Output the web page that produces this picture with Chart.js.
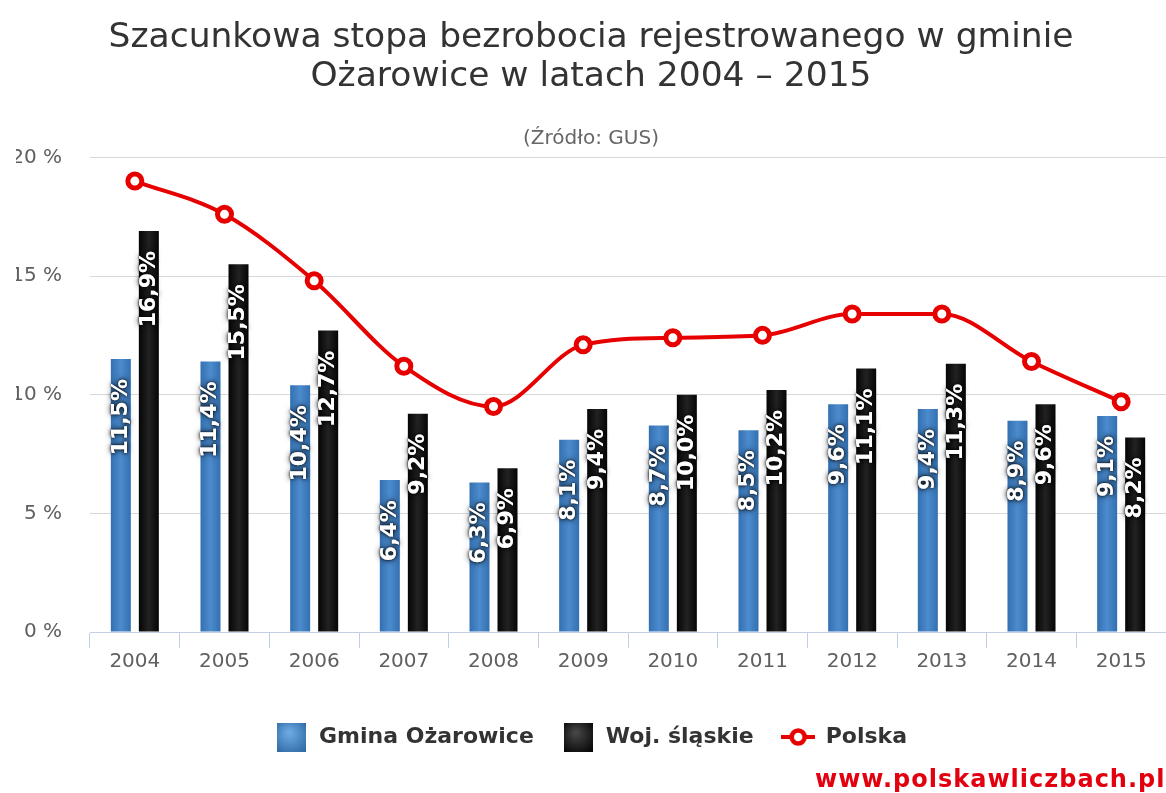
<!DOCTYPE html>
<html>
<head>
<meta charset="utf-8">
<script src="https://cdn.jsdelivr.net/npm/chart.js@4.4.1/dist/chart.umd.min.js"></script>
<style>
  body { margin: 0; background: #fff; overflow: hidden; }
  #wrap { position: relative; width: 1166px; height: 793px; }
  #mark { position: absolute; left: 815px; top: 765px; font: bold 24px "DejaVu Sans"; color: #e3000f; white-space: nowrap; letter-spacing: 1px; }
</style>
</head>
<body>
<div id="wrap">
  <canvas id="chart"></canvas>
  <div id="mark">www.polskawliczbach.pl</div>
</div>
<script>
// data
const years = ["2004", "2005", "2006", "2007", "2008", "2009", "2010", "2011", "2012", "2013", "2014", "2015"];
const gmina = [11.5, 11.4, 10.4, 6.4, 6.3, 8.1, 8.7, 8.5, 9.6, 9.4, 8.9, 9.1];
const slaskie = [16.9, 15.5, 12.7, 9.2, 6.9, 9.4, 10.0, 10.2, 11.1, 11.3, 9.6, 8.2];
const polska = [19.0, 17.6, 14.8, 11.2, 9.5, 12.1, 12.4, 12.5, 13.4, 13.4, 11.4, 9.7];
const yTicks = [0, 5, 10, 15, 20];

const catPct = 0.625;
const barPct = 0.714;

Chart.defaults.font.family = '"DejaVu Sans"';

// horizontal gradient across one bar
function barFill(ctx, light, dark, side) {
    const chart = ctx.chart;
    const xs = chart.scales.x;
    if (ctx.type !== 'data' || !xs) return dark;
    const slot = xs.width / years.length * catPct / 2;
    const cx = xs.getPixelForValue(ctx.dataIndex) + side * slot / 2;
    const w = slot * barPct;
    const g = chart.ctx.createLinearGradient(cx - w / 2, 0, cx + w / 2, 0);
    g.addColorStop(0, dark);
    g.addColorStop(0.5, light);
    g.addColorStop(1, dark);
    return g;
}

function boxIcon(light, dark) {
    const c = document.createElement('canvas');
    c.width = 29; c.height = 29;
    const x = c.getContext('2d');
    const g = x.createRadialGradient(12, 10, 2, 14, 14, 22);
    g.addColorStop(0, light);
    g.addColorStop(1, dark);
    x.fillStyle = g;
    x.fillRect(0, 0, 29, 29);
    return c;
}

function lineIcon() {
    const c = document.createElement('canvas');
    c.width = 34; c.height = 22;
    const x = c.getContext('2d');
    x.strokeStyle = '#e60000';
    x.lineWidth = 4;
    x.beginPath(); x.moveTo(0, 11); x.lineTo(34, 11); x.stroke();
    x.beginPath(); x.arc(17, 11, 6.5, 0, Math.PI * 2);
    x.fillStyle = '#fff'; x.fill();
    x.lineWidth = 4.5; x.stroke();
    return c;
}

const icons = [boxIcon('#6aa7e0', '#2a64a0'), boxIcon('#444', '#000'), lineIcon()];

// white rotated value labels inside the bars
const barLabels = {
    id: 'barLabels',
    afterDatasetDraw(chart, args) {
        const meta = args.meta;
        if (meta.type !== 'bar') return;
        const values = chart.data.datasets[args.index].data;
        const ctx = chart.ctx;
        ctx.save();
        ctx.font = 'bold 22px "DejaVu Sans"';
        ctx.textAlign = 'right';
        ctx.textBaseline = 'middle';
        ctx.fillStyle = '#fff';
        meta.data.forEach((bar, i) => {
            const text = values[i].toFixed(1).replace('.', ',') + '%';
            ctx.save();
            ctx.translate(bar.x, bar.y + 20);
            ctx.rotate(-Math.PI / 2);
            ctx.shadowColor = 'rgba(0,0,0,0.9)';
            ctx.shadowBlur = 6;
            ctx.fillText(text, 0, 0);
            ctx.shadowBlur = 3;
            ctx.fillText(text, 0, 0);
            ctx.restore();
        });
        ctx.restore();
    }
};

new Chart(document.getElementById('chart'), {
    type: 'bar',
    data: {
        labels: years,
        datasets: [
            {
                label: 'Gmina Ożarowice',
                data: gmina,
                backgroundColor: c => barFill(c, '#4c8bcd', '#3370b1', -1),
                categoryPercentage: catPct,
                barPercentage: barPct,
                order: 2
            },
            {
                label: 'Woj. śląskie',
                data: slaskie,
                backgroundColor: c => barFill(c, '#222222', '#050505', 1),
                categoryPercentage: catPct,
                barPercentage: barPct,
                order: 2
            },
            {
                type: 'line',
                label: 'Polska',
                data: polska,
                borderColor: '#e60000',
                borderWidth: 4,
                backgroundColor: '#ffffff',
                pointBackgroundColor: '#ffffff',
                pointBorderColor: '#e60000',
                pointBorderWidth: 5,
                pointRadius: 7,
                cubicInterpolationMode: 'monotone',
                order: 1
            }
        ]
    },
    options: {
        responsive: true,
        maintainAspectRatio: false,
        animation: false,
        layout: { autoPadding: false, padding: { top: 0, left: 16, right: 0, bottom: 35 } },
        plugins: {
            title: {
                display: true,
                text: ['Szacunkowa stopa bezrobocia rejestrowanego w gminie', 'Ożarowice w latach 2004 – 2015'],
                color: '#333333',
                font: { size: 34.5, weight: 'normal', lineHeight: 1.15 },
                padding: { top: 18, bottom: 29 }
            },
            subtitle: {
                display: true,
                text: '(Źródło: GUS)',
                color: '#666666',
                font: { size: 20, lineHeight: 1.2 },
                padding: { top: 0, bottom: 7 }
            },
            legend: {
                position: 'bottom',
                labels: {
                    usePointStyle: true,
                    pointStyleWidth: 33,
                    padding: 28,
                    color: '#333333',
                    font: { size: 22, weight: 'bold' },
                    generateLabels: chart => chart.data.datasets.map((ds, i) => ({
                        text: ds.label,
                        pointStyle: icons[i],
                        datasetIndex: i,
                        hidden: false,
                        fontColor: '#333333',
                        lineWidth: 0,
                        strokeStyle: 'transparent',
                        fillStyle: 'transparent'
                    }))
                }
            },
            tooltip: { enabled: false }
        },
        scales: {
            x: {
                offset: true,
                afterFit: s => { s.height = 66; s.paddingLeft = 0; s.paddingRight = 0; },
                grid: { display: true, drawOnChartArea: false, drawTicks: true, tickLength: 16, color: '#c0d0e0', offset: true },
                border: { display: true, color: '#c0d0e0', width: 1 },
                ticks: { color: '#606060', font: { size: 20 }, padding: 2 }
            },
            y: {
                min: 0,
                max: 20,
                afterFit: s => { s.width = 74; },
                afterBuildTicks: s => { s.ticks = yTicks.map(v => ({ value: v })); },
                grid: { drawTicks: false, color: c => c.tick && c.tick.value === 0 ? 'rgba(0,0,0,0)' : '#d8d8d8' },
                border: { display: false },
                ticks: { color: '#606060', font: { size: 20 }, padding: 28, callback: v => v + ' %' }
            }
        }
    },
    plugins: [barLabels]
});
</script>
</body>
</html>
